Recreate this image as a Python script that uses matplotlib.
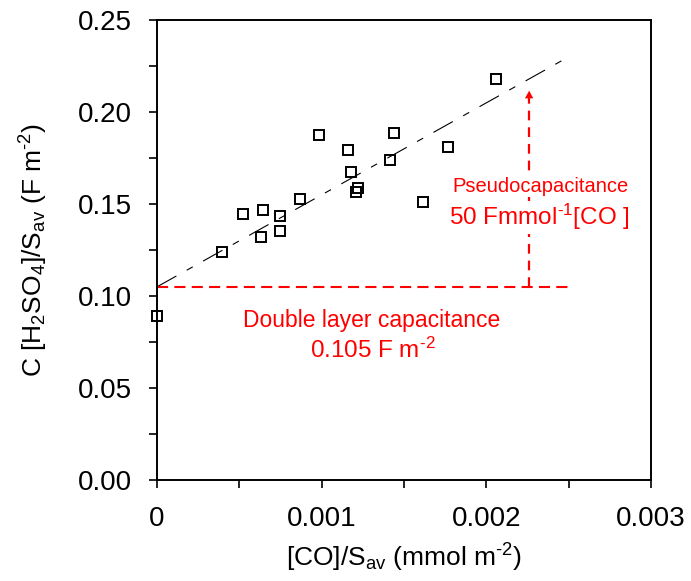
import matplotlib
matplotlib.use("Agg")
import matplotlib.pyplot as plt
import numpy as np
from matplotlib.ticker import MultipleLocator, FixedFormatter, FixedLocator

plt.rcParams['font.family'] = ['Liberation Sans', 'DejaVu Sans']
plt.rcParams['mathtext.fontset'] = 'custom'
plt.rcParams['mathtext.rm'] = 'Liberation Sans'
plt.rcParams['mathtext.it'] = 'Liberation Sans'
plt.rcParams['mathtext.default'] = 'regular'
plt.rcParams['lines.scale_dashes'] = False

# [CO]/Sav (mmol m-2) and C[H2SO4]/Sav (F m-2)
co_sav = [0.0, 0.000397, 0.000524, 0.000642, 0.000631, 0.000749, 0.000749,
          0.000866, 0.000982, 0.001158, 0.001180, 0.001206, 0.001218,
          0.001415, 0.001439, 0.001613, 0.001767, 0.002058]
cap_sav = [0.089, 0.1237, 0.1444, 0.1466, 0.1322, 0.1435, 0.1351,
           0.1529, 0.1877, 0.1793, 0.1672, 0.1567, 0.1585,
           0.1737, 0.1888, 0.1511, 0.1811, 0.218]

# linear fit: double layer intercept + pseudocapacitance slope
c_dl = 0.105          # F m-2
c_pseudo = 50.0       # F mmol-1
fit_x = np.array([0.0, 0.0025])
fit_y = c_dl + c_pseudo * fit_x
arrow_x = 0.00226
arrow_top = 0.2116

fig = plt.figure(figsize=(6.91, 5.81), dpi=100)
ax = fig.add_axes([0.2272, 0.1738, 0.7149, 0.7917])

ax.plot(fit_x, fit_y, color='black', lw=0.8,
        dashes=(16, 8.5, 5, 8.5))
ax.plot(co_sav, cap_sav, 's', ms=7.5, mfc='none', mec='black', mew=1.4,
        clip_on=False, zorder=5)

# double layer level
ax.plot([0, fit_x[-1]], [c_dl, c_dl], color='red', lw=1.5,
        dashes=(8, 4.5))
# pseudocapacitance arrow
ax.plot([arrow_x, arrow_x], [c_dl, arrow_top - 0.004], color='red', lw=1.6,
        dashes=(7, 5))
ax.annotate('', xy=(arrow_x, arrow_top), xytext=(arrow_x, arrow_top - 0.006),
            arrowprops=dict(arrowstyle='-|>,head_length=0.55,head_width=0.3',
                            color='red', lw=0, shrinkA=0, shrinkB=0))

box = dict(facecolor='white', edgecolor='none', pad=1)
ax.text(0.002332, 0.1598, 'Pseudocapacitance', color='red', fontsize=14.5,
        ha='center', va='center', bbox=box, zorder=6)
ax.text(0.002324, 0.1428, r'50 Fmmol$^{\text{-1}}$[CO ]', color='red',
        fontsize=17.5, ha='center', va='center', bbox=box, zorder=6)
ax.text(0.001304, 0.0866, 'Double layer capacitance', color='red', fontsize=16.5,
        ha='center', va='center')
ax.text(0.00131, 0.0703, r'0.105 F m$^{\text{-2}}$', color='red', fontsize=17.5,
        ha='center', va='center')

ax.set_xlim(0, 0.003)
ax.set_ylim(0, 0.25)
ax.xaxis.set_major_locator(FixedLocator([0, 0.001, 0.002, 0.003]))
ax.xaxis.set_major_formatter(FixedFormatter(['0', '0.001', '0.002', '0.003']))
ax.xaxis.set_minor_locator(MultipleLocator(0.0005))
ax.yaxis.set_major_locator(MultipleLocator(0.05))
ax.yaxis.set_minor_locator(MultipleLocator(0.025))
ax.yaxis.set_major_formatter(plt.FormatStrFormatter('%.2f'))

ax.tick_params(which='both', direction='out', top=False, right=False,
               width=1.2, color='black')
ax.tick_params(which='major', length=6, labelsize=20)
ax.tick_params(which='minor', length=6)
ax.tick_params(axis='x', pad=13)
ax.tick_params(axis='y', pad=12)
for s in ax.spines.values():
    s.set_linewidth(1.4)

ax.set_xlabel(r'[CO]/S$_{av}$ (mmol m$^{\text{-2}}$)', fontsize=19, labelpad=7)
ax.set_ylabel(r'C [H$_2$SO$_4$]/S$_{av}$ (F m$^{\text{-2}}$)', fontsize=19,
              labelpad=20)

fig.savefig('out.png', dpi=100)
